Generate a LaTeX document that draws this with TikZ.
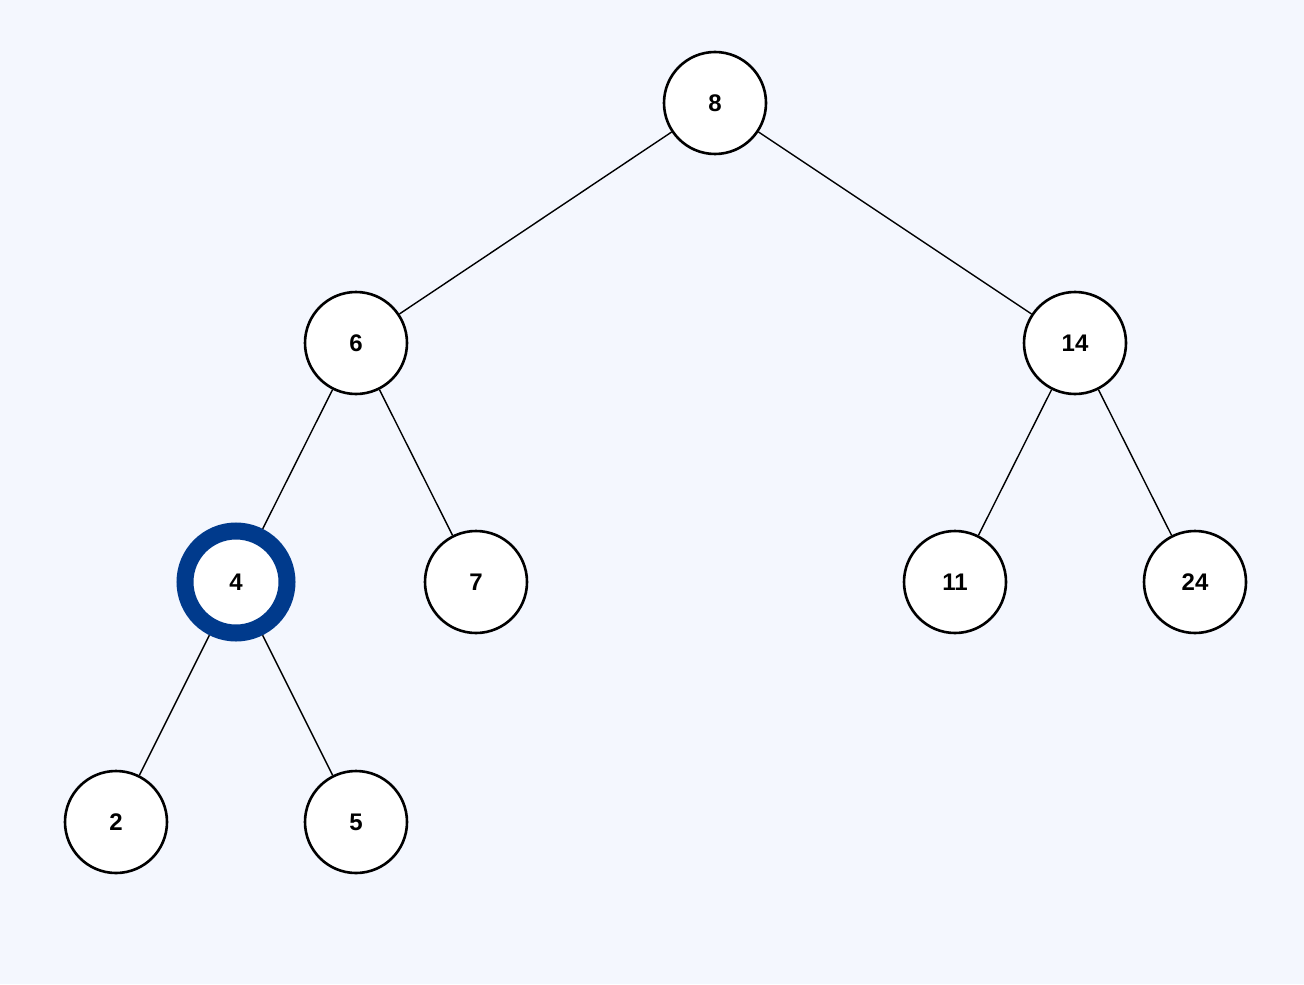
\documentclass[tikz,border=0pt]{standalone}
\usepackage{fontspec}
\setmainfont{Liberation Sans}
\usetikzlibrary{positioning}
\definecolor{bgcol}{RGB}{244,247,254}
\definecolor{markblue}{RGB}{0,58,140}
\tikzset{vert/.style={draw,circle, minimum size=51pt, inner sep=0pt, fill=white, line width=1.3pt, font=\bfseries\fontsize{12}{12}\selectfont}}
\tikzset{marked/.style={vert, draw=markblue, line width=8.5pt}}
\tikzset{ed/.style={line width=0.7pt}}

\begin{document}
\begin{tikzpicture}[x=0.5pt,y=-0.5pt]
\fill[bgcol] (0,0) rectangle (1304,984);
\useasboundingbox (0,0) rectangle (1304,984);

\node[vert] (n8) at (715,103) {8};
\node[vert] (n6) at (356,343) {6};
\node[vert] (n14) at (1075,343) {14};
\node[marked] (n4) at (236,582) {4};
\node[vert] (n7) at (476,582) {7};
\node[vert] (n11) at (955,582) {11};
\node[vert] (n24) at (1195,582) {24};
\node[vert] (n2) at (116,822) {2};
\node[vert] (n5) at (356,822) {5};

\draw[ed] (n8) -- (n6);
\draw[ed] (n8) -- (n14);
\draw[ed] (n6) -- (n4);
\draw[ed] (n6) -- (n7);
\draw[ed] (n14) -- (n11);
\draw[ed] (n14) -- (n24);
\draw[ed] (n4) -- (n2);
\draw[ed] (n4) -- (n5);

\end{tikzpicture}
\end{document}
